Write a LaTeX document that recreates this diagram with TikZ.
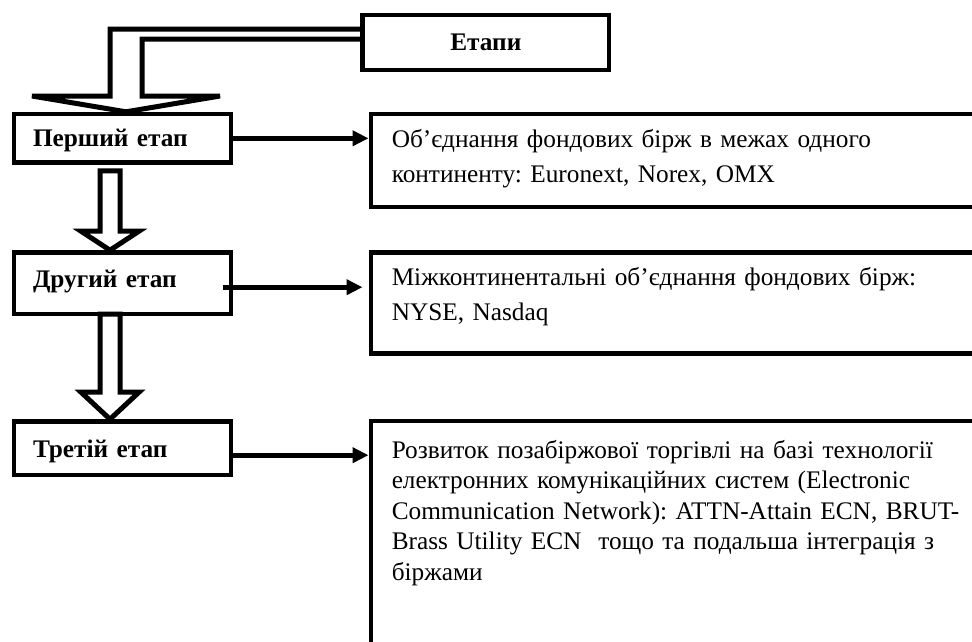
\documentclass[tikz,border=0pt]{standalone}
\usepackage{fontspec}
\setmainfont{Liberation Serif}
\frenchspacing
\usetikzlibrary{arrows.meta}
\usetikzlibrary{calc}

\begin{document}
\begin{tikzpicture}[x=1pt, y=-1pt,
    stage/.style={rectangle, draw, line width=4.5pt, minimum width=217pt, inner xsep=19pt, text width=179pt, align=left, text height=18pt, text depth=0pt, font=\fontsize{25.3}{30}\selectfont\bfseries},
    title/.style={stage, align=center, minimum width=246.5pt, minimum height=55pt, text depth=3pt},
    desc/.style={rectangle, draw, line width=4.5pt, anchor=north west, inner xsep=21pt, inner ysep=8pt, text width=600pt, align=left, text height=25pt},
    hollow/.style={line width=5pt},
    link/.style={line width=5pt, -{Triangle[length=16pt, width=15pt]}}]
    \useasboundingbox (0,0) rectangle (972,641);

    \draw (485.8, 42.7) node[title] (etapy) {Етапи};
    \draw (122.5, 138.3) node[stage, minimum height=48.5pt, text depth=1pt] (stage1) {Перший етап};
    \draw (122.5, 283.2) node[stage, minimum height=61.5pt, text depth=10pt] (stage2) {Другий етап};
    \draw (122.5, 448.2) node[stage, minimum height=53.5pt] (stage3) {Третій етап};

    \draw (368.5, 111.75) node[desc, text depth=52pt, font=\fontsize{25.3}{35}\selectfont] (desc1)
        {Об’єднання фондових бірж в межах одного\\континенту: Euronext, Norex, OMX};
    \draw (368.5, 250.25) node[desc, text depth=60pt, font=\fontsize{25.3}{35}\selectfont] (desc2)
        {Міжконтинентальні об’єднання фондових бірж:\\NYSE, Nasdaq};
    \draw (368.5, 418.75) node[desc, text height=29pt, text depth=250pt, font=\fontsize{25.3}{30.5}\selectfont] (desc3)
        {Розвиток позабіржової торгівлі на базі технології\\електронних комунікаційних систем (Electronic\\Communication Network): ATTN-Attain ECN, BRUT-\\Brass Utility ECN\ \ тощо та подальша інтеграція з\\біржами};

    % bent block arrow from the title
    \coordinate (axisA) at (126,0);
    \draw[hollow] ([yshift=13.7pt]etapy.west) -| (110,96) -- (32,96) -- (axisA |- stage1.north)
        -- (220,96) -- (142,96) |- ([yshift=3.7pt]etapy.west);

    % block arrows between stages
    \coordinate (axis) at (110,0);
    \foreach \src/\dst/\gap/\hd in {stage1/stage2/6/19, stage2/stage3/-2/27}{
        \draw[hollow] ($(axis |- \src.south)+(-10,\gap)$) -- ($(axis |- \dst.north)+(-10,-\hd)$)
            -- ++(-19,0) -- (axis |- \dst.north) -- ($(axis |- \dst.north)+(29,-\hd)$)
            -- ++(-19,0) -- ($(axis |- \src.south)+(10,\gap)$) -- cycle;
    }

    \draw[link] (stage1.east) -- (stage1.east -| desc1.west);
    \draw[link, shorten >=6pt] ([xshift=-10pt, yshift=-4pt]stage2.east) -- ([yshift=-4pt]stage2.east -| desc2.west);
    \draw[link] ([yshift=-7pt]stage3.east) -- ([yshift=-7pt]stage3.east -| desc3.west);
\end{tikzpicture}
\end{document}
